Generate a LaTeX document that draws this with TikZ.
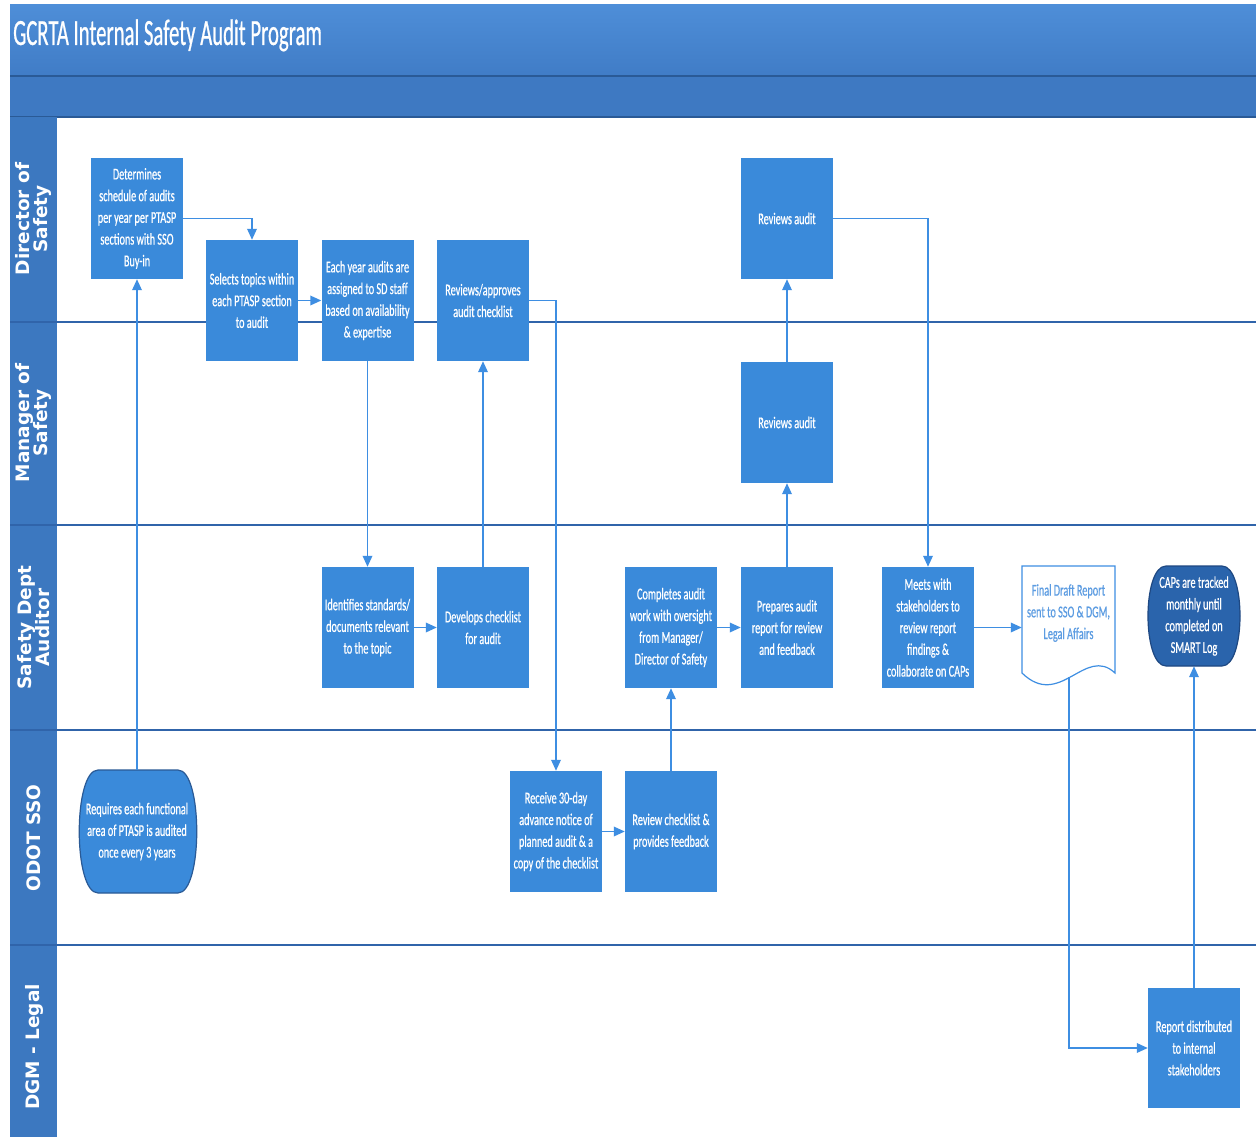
\documentclass[tikz,border=0pt]{standalone}
\usepackage{fontspec}
\usetikzlibrary{arrows.meta}
\newfontfamily\boxfont[FakeStretch=0.62,FakeBold=0.6]{Carlito}
\newfontfamily\titlefont[FakeStretch=0.56,FakeBold=0.6]{Carlito}
\newfontfamily\lanefont{DejaVu Sans}
\definecolor{boxblue}{RGB}{58,138,218}
\definecolor{connblue}{RGB}{62,142,226}
\definecolor{laneline}{RGB}{48,100,170}
\definecolor{titletop}{RGB}{78,142,216}
\definecolor{titlebot}{RGB}{64,124,198}
\definecolor{bandtwo}{RGB}{62,121,194}
\definecolor{bandline}{RGB}{42,90,150}
\definecolor{lanecol}{RGB}{60,120,192}
\definecolor{capsfill}{RGB}{42,100,172}
\definecolor{capsline}{RGB}{30,72,130}
\definecolor{fdrtext}{RGB}{92,156,226}
\begin{document}
\begin{tikzpicture}[x=1pt,y=-1pt,
  stepbox/.style={rectangle, fill=boxblue, minimum width=92pt, minimum height=121pt,
    inner sep=0pt, align=center, text=white, font=\boxfont\fontsize{16.5}{21.7}\selectfont},
  textonly/.style={rectangle, inner sep=0pt, align=center, font=\boxfont\fontsize{16.5}{21.7}\selectfont},
  conn/.style={draw=connblue, line width=1.8pt, -{Triangle[length=11pt,width=9.5pt]}},
  lanelabel/.style={rotate=90, text=white, font=\lanefont\bfseries\fontsize{18.5}{18.5}\selectfont,
    align=center, inner sep=0pt},
  lanesep/.style={draw=laneline, line width=1.6pt}
]
\useasboundingbox (0,0) rectangle (1256,1137);
\fill[white] (0,0) rectangle (1256,1137);
% title bands
\shade[top color=titletop, bottom color=titlebot] (10,5) rectangle (1256,76);
\fill[bandtwo] (10,76) rectangle (1256,117);
\draw[bandline, line width=2pt] (10,76) -- (1256,76);
\draw[bandline, line width=2pt] (10,117) -- (1256,117);
\node[anchor=base west, text=white, font=\titlefont\fontsize{37}{40}\selectfont, inner sep=0pt] (title) at (13,45) {GCRTA Internal Safety Audit Program};
% lane column and separators
\fill[lanecol] (10,117) rectangle (57,1137);
\foreach \yy in {322,525,730,945} { \draw[lanesep] (10,\yy) -- (1256,\yy); }
\node[lanelabel] (l1) at (33.5,219) {Director of\\Safety};
\node[lanelabel] (l2) at (33.5,423) {Manager of\\Safety};
\node[lanelabel] (l3) at (33.5,627.5) {Safety Dept\\Auditor};
\node[lanelabel] (l4) at (34,838) {ODOT SSO};
\node[lanelabel] (l5) at (34,1047) {DGM - Legal};
% special shapes
\filldraw[fill=boxblue, draw=bandline, line width=1.2pt]
  (98,770) -- (178,770) .. controls (203,770) and (203,893) .. (178,893)
  -- (98,893) .. controls (73,893) and (73,770) .. (98,770) -- cycle;
\filldraw[fill=capsfill, draw=capsline, line width=1.2pt]
  (1166,566) -- (1222,566) .. controls (1246,566) and (1246,666) .. (1222,666)
  -- (1166,666) .. controls (1142,666) and (1142,566) .. (1166,566) -- cycle;
\filldraw[fill=white, draw=connblue, line width=1.2pt]
  (1022,566) -- (1115,566) -- (1115,673) .. controls (1085,645) and (1060,710) .. (1022,673) -- cycle;
% nodes
\node[stepbox] (det) at (137,218.5) {Determines\\schedule of audits\\per year per PTASP\\sections with SSO\\Buy-in};
\node[stepbox] (sel) at (252,300.5) {Selects topics within\\each PTASP section\\to audit};
\node[stepbox] (each) at (367.5,300.5) {Each year audits are\\assigned to SD staff\\based on availability\\\& expertise};
\node[stepbox] (rev) at (483,300.5) {Reviews/approves\\audit checklist};
\node[stepbox] (ra1) at (787,218.5) {Reviews audit};
\node[stepbox] (ra2) at (787,422.5) {Reviews audit};
\node[stepbox] (ident) at (367.5,627.5) {Identifies standards/\\documents relevant\\to the topic};
\node[stepbox] (dev) at (483,627.5) {Develops checklist\\for audit};
\node[stepbox] (comp) at (671,627.5) {Completes audit\\work with oversight\\from Manager/\\Director of Safety};
\node[stepbox] (prep) at (787,627.5) {Prepares audit\\report for review\\and feedback};
\node[stepbox] (meet) at (928,627.5) {Meets with\\stakeholders to\\review report\\findings \&\\collaborate on CAPs};
\node[stepbox] (recv) at (556,831.5) {Receive 30-day\\advance notice of\\planned audit \& a\\copy of the checklist};
\node[stepbox] (revck) at (671,831.5) {Review checklist \&\\provides feedback};
\node[stepbox, minimum height=120pt] (dist) at (1194,1048) {Report distributed\\to internal\\stakeholders};
\node[textonly, text=white, minimum width=116pt, minimum height=123pt] (req) at (137,831.5) {Requires each functional\\area of PTASP is audited\\once every 3 years};
\node[textonly, text=white, minimum width=92pt, minimum height=100pt] (caps) at (1194,616) {CAPs are tracked\\monthly until\\completed on\\SMART Log};
\node[textonly, text=fdrtext, minimum width=93pt, minimum height=107pt] (fdr) at (1068.5,613) {Final Draft Report\\sent to SSO \& DGM,\\Legal Affairs};
\coordinate (fdrbot) at (1069,677);
% connectors
\draw[conn] (req.north) -- (det.south);
\draw[conn] (det.east) -| (sel.north);
\draw[conn] (sel) -- (each);
\draw[conn] (each) -- (ident);
\draw[conn] (ident) -- (dev);
\draw[conn] (dev) -- (rev);
\draw[conn] (rev.east) -| (recv.north);
\draw[conn] (recv) -- (revck);
\draw[conn] (revck) -- (comp);
\draw[conn] (comp) -- (prep);
\draw[conn] (prep) -- (ra2);
\draw[conn] (ra2) -- (ra1);
\draw[conn] (ra1.east) -| (meet.north);
\draw[conn] (meet.east) -- (meet.east -| fdr.west);
\draw[conn] (fdrbot) |- (dist.west);
\draw[conn] (dist) -- (caps);
\end{tikzpicture}
\end{document}
